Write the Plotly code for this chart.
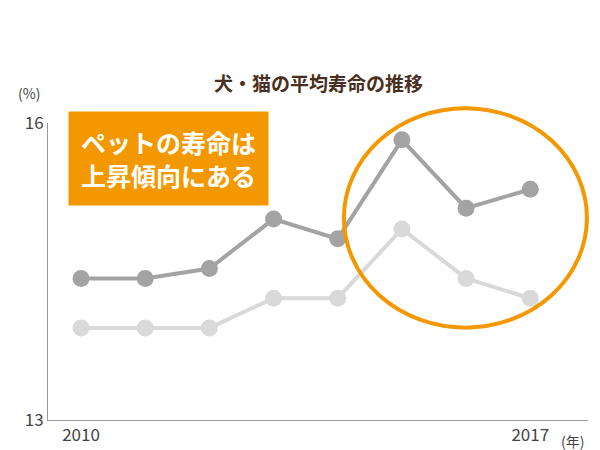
import plotly.graph_objects as go

years = [2010, 2011, 2012, 2013, 2014, 2015, 2016, 2017]
dark_vals = [14.43, 14.43, 14.53, 15.03, 14.83, 15.83, 15.14, 15.33]
light_vals = [13.93, 13.93, 13.93, 14.23, 14.23, 14.93, 14.43, 14.23]

fig = go.Figure()
fig.add_trace(go.Scatter(x=years, y=light_vals, mode="lines+markers",
                         line=dict(color="#d9d9d9", width=4),
                         marker=dict(size=17, color="#d9d9d9")))
fig.add_trace(go.Scatter(x=years, y=dark_vals, mode="lines+markers",
                         line=dict(color="#a3a3a3", width=4),
                         marker=dict(size=17, color="#a3a3a3")))

font = "Noto Sans CJK JP"
fig.update_layout(
    width=600, height=450, showlegend=False,
    paper_bgcolor="white", plot_bgcolor="white",
    margin=dict(l=40, r=20, t=115, b=30),
    font=dict(family=font, color="#444444", size=17),
    xaxis=dict(range=[2009.485, 2017.9], tickvals=[2010, 2017], showgrid=False,
               showline=True, linecolor="#999999", linewidth=1, zeroline=False),
    yaxis=dict(range=[13, 16], tickvals=[13, 16], showgrid=False,
               showline=True, linecolor="#999999", linewidth=1, zeroline=False),
    shapes=[dict(type="circle", xref="paper", yref="paper", x0=0.548, x1=0.998,
                 y0=0.311, y1=1.05, line=dict(color="#f39800", width=4))],
    annotations=[
        dict(text="<b>犬・猫の平均寿命の推移</b>", xref="paper", yref="paper",
             x=0.5, y=1.19, xanchor="center", showarrow=False,
             font=dict(size=19, color="#4a3020")),
        dict(text="(%)", xref="paper", yref="paper", x=-0.06, y=1.06,
             xanchor="left", yanchor="bottom", showarrow=False, font=dict(size=14)),
        dict(text="(年)", xref="x", yref="paper", x=2017.45, y=-0.03,
             xanchor="left", yanchor="top", showarrow=False, font=dict(size=14)),
        dict(text="<b>ペットの寿命は<br>上昇傾向にある</b>", xref="paper", yref="paper",
             x=0.037, y=1.04, xanchor="left", yanchor="top", showarrow=False,
             align="left", bgcolor="#f39800", borderpad=12,
             font=dict(size=25, color="white")),
    ],
)
fig.write_html("out.html")
